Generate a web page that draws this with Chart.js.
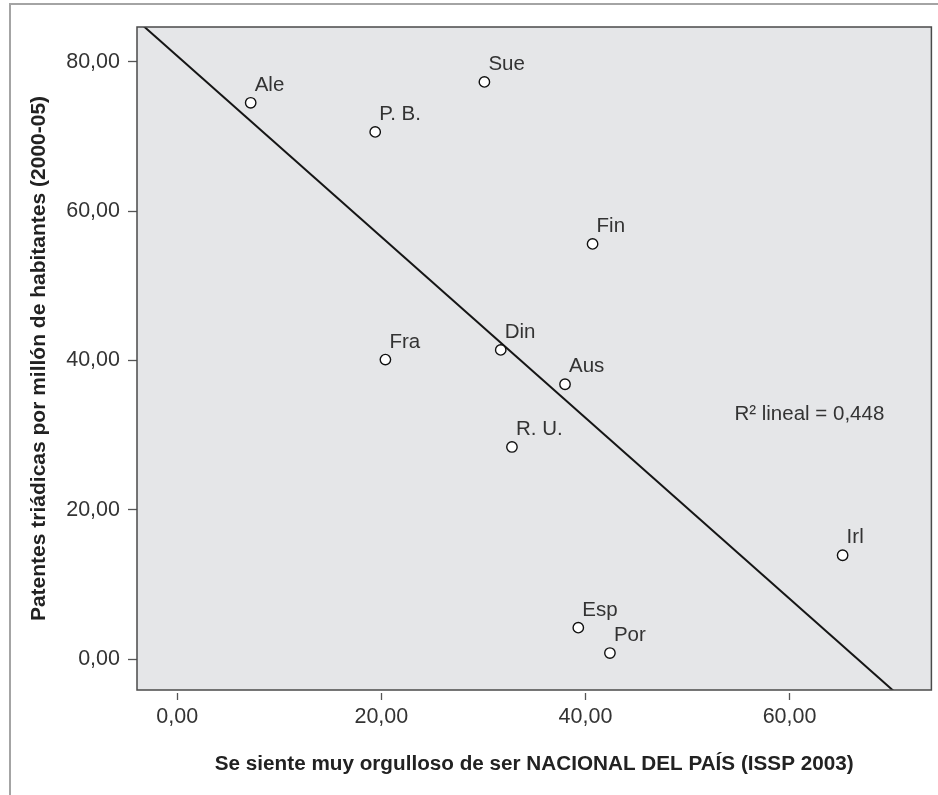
<!DOCTYPE html>
<html lang="es">
<head>
<meta charset="utf-8">
<title>Patentes triádicas y orgullo nacional</title>
<script src="https://cdn.jsdelivr.net/npm/chart.js@4.4.1/dist/chart.umd.min.js"></script>
<style>
  html, body { margin: 0; padding: 0; background: #fff; overflow: hidden; }
  #marco { position: absolute; left: 9px; top: 3px; width: 940px; height: 800px;
           border-left: 2.5px solid #a4a4a4; border-top: 2.5px solid #a4a4a4; }
  #grafico { position: absolute; left: 0; top: 0; }
</style>
</head>
<body>
<div id="marco"></div>
<canvas id="grafico" width="938" height="795"></canvas>
<script>
// Datos (un punto por pais)
var paises   = ['Ale', 'P. B.', 'Sue', 'Fin', 'Fra', 'Din', 'Aus', 'R. U.', 'Irl', 'Esp', 'Por'];
var orgullo  = [7.2, 19.4, 30.1, 40.7, 20.4, 31.7, 38.0, 32.8, 65.2, 39.3, 42.4];
var patentes = [74.5, 70.6, 77.3, 55.6, 40.1, 41.4, 36.8, 28.4, 13.9, 4.2, 0.8];

var ticksX = [0, 20, 40, 60];
var ticksY = [0, 20, 40, 60, 80];

var r2Texto = 'R\u00B2 lineal = 0,448';

// rango de los ejes
var xMin = -3.94, xMax = 73.9;
var yMin = -4.15, yMax = 84.65;

var fuente = "'Liberation Sans', Arial, sans-serif";
Chart.defaults.font.family = fuente;
Chart.defaults.color = '#333';

// recta de minimos cuadrados sobre los puntos
function ajusteLineal(xs, ys) {
  var n = xs.length, mx = 0, my = 0;
  for (var i = 0; i < n; i++) { mx += xs[i]; my += ys[i]; }
  mx = mx / n; my = my / n;
  var sxy = 0, sxx = 0;
  for (var j = 0; j < n; j++) {
    sxy += (xs[j] - mx) * (ys[j] - my);
    sxx += (xs[j] - mx) * (xs[j] - mx);
  }
  var b = sxy / sxx;
  return { a: my - b * mx, b: b };
}

var recta = ajusteLineal(orgullo, patentes);

var puntos = paises.map(function (p, i) {
  return { x: orgullo[i], y: patentes[i] };
});

// formato con coma decimal
var conComa = function (v) {
  return v.toFixed(2).replace('.', ',');
};

// fondo gris y marco del area de datos
var fondoPlot = {
  id: 'fondoPlot',
  beforeDraw: function (chart) {
    var a = chart.chartArea, ctx = chart.ctx;
    ctx.save();
    ctx.fillStyle = '#e5e6e8';
    ctx.fillRect(a.left, a.top, a.right - a.left, a.bottom - a.top);
    ctx.restore();
  },
  afterDraw: function (chart) {
    var a = chart.chartArea, ctx = chart.ctx;
    ctx.save();
    ctx.strokeStyle = '#4a4a4a';
    ctx.lineWidth = 1.5;
    ctx.strokeRect(a.left, a.top, a.right - a.left, a.bottom - a.top);
    ctx.restore();
  }
};

// nombres de los paises y el R2
var etiquetas = {
  id: 'etiquetas',
  afterDatasetsDraw: function (chart) {
    var ctx = chart.ctx;
    var meta = chart.getDatasetMeta(0);
    ctx.save();
    ctx.font = '20.5px ' + fuente;
    ctx.fillStyle = '#333';
    ctx.textAlign = 'left';
    ctx.textBaseline = 'alphabetic';
    meta.data.forEach(function (pt, i) {
      ctx.fillText(paises[i], pt.x + 4, pt.y - 12);
    });
    var sx = chart.scales.x, sy = chart.scales.y;
    ctx.fillText(r2Texto, sx.getPixelForValue(54.6), sy.getPixelForValue(32));
    ctx.restore();
  }
};

var ctx = document.getElementById('grafico');
var grafico = new Chart(ctx, {
  type: 'scatter',
  data: {
    datasets: [{
      label: 'Paises',
      data: puntos,
      pointRadius: 5.2,
      pointBorderWidth: 1.4,
      pointBackgroundColor: '#ffffff',
      pointBorderColor: '#111111'
    }, {
      type: 'line',
      label: 'Ajuste lineal',
      data: [
        { x: xMin, y: recta.a + recta.b * xMin },
        { x: xMax, y: recta.a + recta.b * xMax }
      ],
      borderColor: '#151515',
      borderWidth: 2,
      pointRadius: 0,
      fill: false
    }]
  },
  options: {
    responsive: false,
    animation: false,
    layout: { padding: { left: 0, top: 27, right: 5, bottom: 0 } },
    plugins: {
      legend: { display: false },
      tooltip: { enabled: false }
    },
    scales: {
      x: {
        type: 'linear',
        min: xMin,
        max: xMax,
        afterBuildTicks: function (s) { s.ticks = ticksX.map(function (v) { return { value: v }; }); },
        afterFit: function (s) { s.height = 105; },
        border: { display: false },
        grid: {
          drawOnChartArea: false,
          drawTicks: true,
          tickLength: 10,
          tickBorderDash: [0, 3, 7, 100],
          tickColor: '#555',
          tickWidth: 1.3
        },
        ticks: { padding: 4, maxRotation: 0, font: { size: 21.5 }, color: '#333', callback: conComa },
        title: {
          display: true,
          text: 'Se siente muy orgulloso de ser NACIONAL DEL PAÍS (ISSP 2003)',
          font: { size: 20.7, weight: 'bold' },
          color: '#222',
          padding: { top: 0, bottom: 18 }
        }
      },
      y: {
        type: 'linear',
        min: yMin,
        max: yMax,
        afterBuildTicks: function (s) { s.ticks = ticksY.map(function (v) { return { value: v }; }); },
        afterFit: function (s) { s.width = 137; },
        border: { display: false },
        grid: {
          drawOnChartArea: false,
          drawTicks: true,
          tickLength: 9,
          tickColor: '#555',
          tickWidth: 1.3
        },
        ticks: { padding: 8, font: { size: 21.5 }, color: '#333', callback: conComa },
        title: {
          display: true,
          text: 'Patentes triádicas por millón de habitantes (2000-05)',
          font: { size: 21, weight: 'bold' },
          color: '#222',
          padding: { top: 27, bottom: 0 }
        }
      }
    }
  },
  plugins: [fondoPlot, etiquetas]
});
</script>
</body>
</html>
